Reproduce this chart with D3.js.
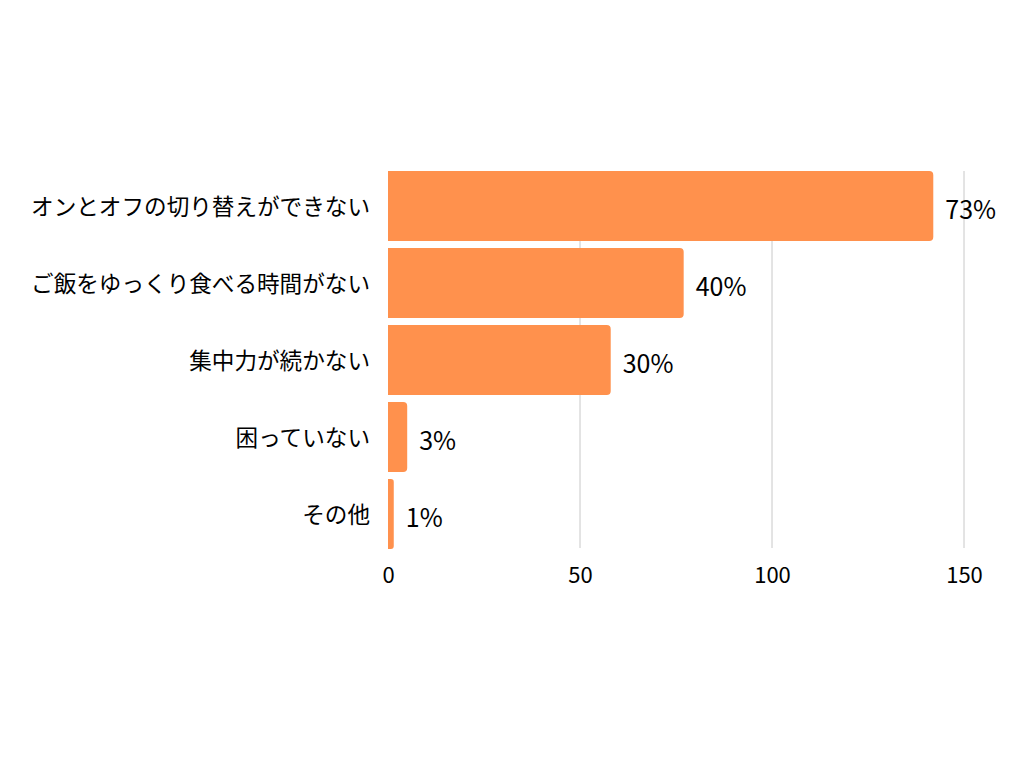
<!DOCTYPE html>
<html lang="ja">
<head>
  <meta charset="UTF-8">
  <title>困っていること</title>
  <script src="https://d3js.org/d3.v7.min.js"></script>
  <style>
    body { margin: 0; background: #fff; }
    svg { display: block; font-family: "Noto Sans CJK JP", "Noto Sans", sans-serif; }
  </style>
</head>
<body>
<div id="chart"></div>
<script>
// data
var categories = ["オンとオフの切り替えができない", "ご飯をゆっくり食べる時間がない", "集中力が続かない", "困っていない", "その他"];
var counts = [142, 77, 58, 5, 1.5];
var percentLabels = ["73%", "40%", "30%", "3%", "1%"];
var xTicks = [0, 50, 100, 150];

var width = 1024, height = 768;
var barColor = "#ff914d";
var radius = 4;

var svg = d3.select("#chart").append("svg")
  .attr("width", width)
  .attr("height", height);

var x = d3.scaleLinear()
  .domain([0, 150])
  .range([388, 964]);

var y = d3.scaleBand()
  .domain(categories)
  .range([167.5, 552.5])
  .paddingInner(0.091)
  .paddingOuter(0.0455);

// vertical grid lines
svg.append("g")
  .selectAll("line")
  .data(xTicks.slice(1))
  .join("line")
    .attr("x1", function(d){ return x(d); })
    .attr("x2", function(d){ return x(d); })
    .attr("y1", 171)
    .attr("y2", 548)
    .attr("stroke", "#c8c8c8")
    .attr("stroke-width", 1);

// bars: square on the left, rounded on the right
function barPath(d, i) {
  var x0 = x(0), x1 = x(d), y0 = y(categories[i]), h = y.bandwidth();
  var r = Math.min(radius, (x1 - x0) / 2);
  return "M" + x0 + "," + y0 +
    "H" + (x1 - r) +
    "A" + r + "," + r + " 0 0 1 " + x1 + "," + (y0 + r) +
    "V" + (y0 + h - r) +
    "A" + r + "," + r + " 0 0 1 " + (x1 - r) + "," + (y0 + h) +
    "H" + x0 + "Z";
}

svg.append("g")
  .selectAll("path")
  .data(counts)
  .join("path")
    .attr("d", barPath)
    .attr("fill", barColor);

// value labels
svg.append("g")
  .selectAll("text")
  .data(counts)
  .join("text")
    .attr("x", function(d){ return x(d) + 12; })
    .attr("y", function(d, i){ return y(categories[i]) + y.bandwidth() / 2 + 6; })
    .attr("dominant-baseline", "middle")
    .attr("font-size", "25px")
    .attr("fill", "#000")
    .text(function(d, i){ return percentLabels[i]; });

// category axis
var yAxis = d3.axisLeft(y).tickSize(0).tickPadding(18);
svg.append("g")
  .attr("transform", "translate(388,0)")
  .call(yAxis)
  .call(function(g){ g.select(".domain").remove(); })
  .selectAll("text")
    .attr("font-size", "22.6px")
    .attr("font-family", "'Noto Sans CJK JP', sans-serif")
    .attr("fill", "#000")
    .attr("dy", "0.4em");

// value axis
var xAxis = d3.axisBottom(x).tickValues(xTicks).tickSize(0).tickPadding(0);
svg.append("g")
  .attr("transform", "translate(0,563)")
  .call(xAxis)
  .call(function(g){ g.select(".domain").remove(); })
  .selectAll("text")
    .attr("font-size", "22px")
    .attr("font-family", "'Noto Sans CJK JP', sans-serif")
    .attr("fill", "#000")
    .attr("dy", "0.9em");
</script>
</body>
</html>
